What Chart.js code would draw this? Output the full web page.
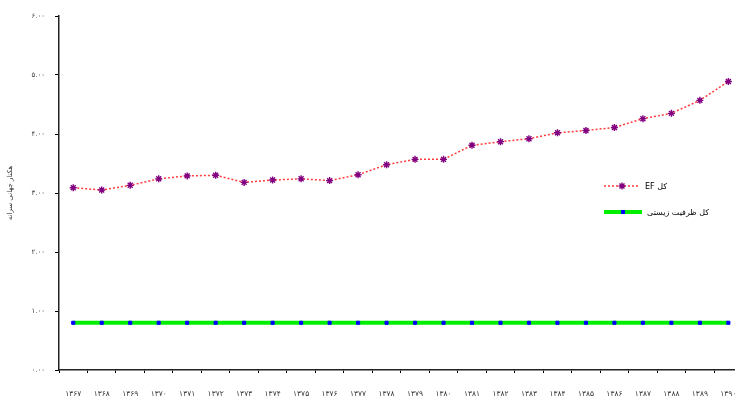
<!DOCTYPE html>
<html>
<head>
<meta charset="utf-8">
<script src="https://cdn.jsdelivr.net/npm/chart.js@4"></script>
<style>
  html, body { margin: 0; padding: 0; background: #fff; overflow: hidden; }
  canvas { display: block; }
</style>
</head>
<body>
<canvas id="efChart" width="748" height="401"></canvas>
<script>
// years (Persian calendar)
const years = ['۱۳۶۷', '۱۳۶۸', '۱۳۶۹', '۱۳۷۰', '۱۳۷۱', '۱۳۷۲', '۱۳۷۳', '۱۳۷۴',
  '۱۳۷۵', '۱۳۷۶', '۱۳۷۷', '۱۳۷۸', '۱۳۷۹', '۱۳۸۰', '۱۳۸۱', '۱۳۸۲',
  '۱۳۸۳', '۱۳۸۴', '۱۳۸۵', '۱۳۸۶', '۱۳۸۷', '۱۳۸۸', '۱۳۸۹', '۱۳۹۰'];
const efTotal = [3.09, 3.05, 3.13, 3.24, 3.29, 3.30, 3.18, 3.22, 3.24, 3.21, 3.31, 3.48,
  3.57, 3.57, 3.81, 3.87, 3.92, 4.02, 4.06, 4.11, 4.26, 4.35, 4.57, 4.89];
const bioCapacity = [0.8, 0.8, 0.8, 0.8, 0.8, 0.8, 0.8, 0.8, 0.8, 0.8, 0.8, 0.8,
  0.8, 0.8, 0.8, 0.8, 0.8, 0.8, 0.8, 0.8, 0.8, 0.8, 0.8, 0.8];
const yMin = 0, yMax = 6, yStep = 1;
const seriesNames = ['کل EF', 'کل ظرفیت زیستی'];

const faDigits = '۰۱۲۳۴۵۶۷۸۹';
function toFa(s) { return String(s).replace(/\d/g, d => faDigits[d]); }

// small legend drawn inside the plot, right side
const innerLegend = {
  id: 'innerLegend',
  afterDraw(chart) {
    const ctx = chart.ctx;
    const rows = [{ y: 186, x1: 604, x2: 640 }, { y: 212, x1: 604, x2: 642 }];
    chart.data.datasets.forEach((ds, i) => {
      const r = rows[i];
      ctx.save();
      ctx.strokeStyle = ds.borderColor;
      ctx.lineWidth = ds.borderWidth;
      ctx.setLineDash(ds.borderDash || []);
      ctx.beginPath();
      ctx.moveTo(r.x1, r.y);
      ctx.lineTo(r.x2, r.y);
      ctx.stroke();
      ctx.setLineDash([]);
      ctx.strokeStyle = ds.pointBorderColor;
      ctx.fillStyle = ds.pointBackgroundColor;
      ctx.lineWidth = ds.pointBorderWidth;
      Chart.helpers.drawPoint(ctx, {
        pointStyle: ds.pointStyle, radius: ds.pointRadius,
        borderWidth: ds.pointBorderWidth
      }, (r.x1 + r.x2) / 2, r.y);
      ctx.fillStyle = '#000';
      ctx.font = '8px "DejaVu Sans"';
      ctx.direction = 'rtl';
      ctx.textAlign = 'left';
      ctx.textBaseline = 'middle';
      ctx.fillText(ds.label, r.x2 + 5, r.y + 1);
      ctx.restore();
    });
  }
};

const ctx = document.getElementById('efChart').getContext('2d');
new Chart(ctx, {
  type: 'line',
  data: {
    labels: years,
    datasets: [{
      label: seriesNames[0],
      data: efTotal,
      borderColor: '#ff3b3b',
      borderWidth: 1.5,
      borderDash: [2, 2],
      pointStyle: 'star',
      pointRadius: 3.5,
      pointBorderWidth: 1.4,
      pointBorderColor: '#800080',
      pointBackgroundColor: '#800080',
      tension: 0
    }, {
      label: seriesNames[1],
      data: bioCapacity,
      borderColor: '#00ee00',
      borderWidth: 4,
      pointStyle: 'rect',
      pointRadius: 2.2,
      pointBorderWidth: 1,
      pointBorderColor: '#0000ff',
      pointBackgroundColor: '#0000ff',
      tension: 0
    }]
  },
  options: {
    responsive: false,
    animation: false,
    layout: { padding: { top: 16, left: 0, right: 0, bottom: 0 } },
    plugins: {
      legend: { display: false },
      tooltip: { enabled: false }
    },
    scales: {
      x: {
        offset: true,
        afterFit(scale) {
          scale.height = 31;
          scale.paddingLeft = 0;
          scale.paddingRight = 0;
        },
        grid: { drawOnChartArea: false, drawTicks: true, tickLength: 3, color: '#000', offset: true },
        border: { display: true, color: '#222', width: 1.5 },
        ticks: {
          color: '#333', font: { family: 'DejaVu Sans', size: 7.5 },
          maxRotation: 0, autoSkip: false, padding: 17
        }
      },
      y: {
        min: yMin,
        max: yMax,
        afterFit(scale) { scale.width = 59; },
        grid: { drawOnChartArea: false, drawTicks: true, tickLength: 4, color: '#000' },
        border: { display: true, color: '#222', width: 1.5 },
        ticks: {
          stepSize: yStep,
          color: '#444', font: { family: 'DejaVu Sans', size: 7 }, padding: 10,
          callback: v => toFa(v.toFixed(2))
        },
        title: {
          display: true,
          text: 'هکتار جهانی سرانه',
          color: '#333',
          font: { family: 'DejaVu Sans', size: 7 },
          padding: { top: 6, bottom: 0 }
        }
      }
    }
  },
  plugins: [innerLegend]
});
</script>
</body>
</html>
